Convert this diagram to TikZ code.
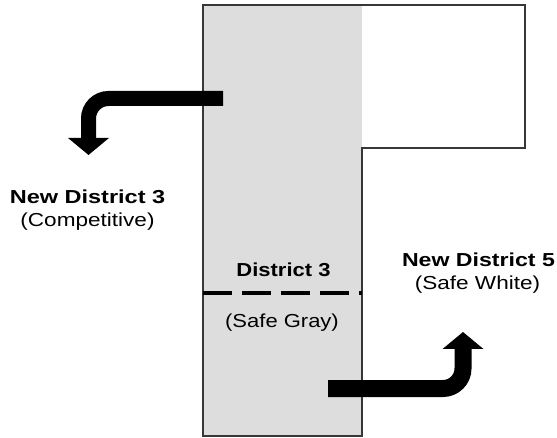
\documentclass[tikz,border=0pt]{standalone}
\usepackage{graphicx}
\usepackage{fontspec}
\setmainfont{Liberation Sans}
\usetikzlibrary{arrows.meta}

\definecolor{safegray}{RGB}{221,221,221}
\definecolor{edgegray}{RGB}{55,55,55}
\newcommand\stretchtxt[2][1.17]{\scalebox{#1}[1]{#2}}

\begin{document}
\begin{tikzpicture}[line cap=butt,line join=miter,x=1pt,y=-1pt,
  lbl/.style={inner sep=0pt,anchor=base,font=\fontsize{18.8}{22}\selectfont},
  bigarrow/.style={line width=#1,rounded corners=20pt,
    -{Triangle[width=40pt,length=17pt]}}]
  \useasboundingbox (0,0) rectangle (557,438);
  % district 3 (gray) and the white part of district 5
  \fill[safegray] (203,5) rectangle (362,436);
  \draw[line width=1.6pt,edgegray] (203,5) -- (525,5) -- (525,148) -- (362,148)
    -- (362,436) -- (203,436) -- cycle;
  \draw[line width=3.2pt,dash pattern=on 29pt off 10pt] (203,293) -- (362,293);
  % labels
  \node[lbl] (d3) at (283.5,276.5) {\stretchtxt{\textbf{District 3}}};
  \node[lbl] (d3sub) at (282,328) {\stretchtxt{(Safe Gray)}};
  \node[lbl] (nd3) at (87.5,204) {\stretchtxt[1.25]{\textbf{New District 3}}};
  \node[lbl] (nd3sub) at (87.5,227) {\stretchtxt[1.2]{(Competitive)}};
  \node[lbl] (nd5) at (478.5,266.5) {\stretchtxt[1.23]{\textbf{New District 5}}};
  \node[lbl] (nd5sub) at (477.5,290) {\stretchtxt[1.2]{(Safe White)}};
  % arrows
  \coordinate (lstart) at (223,98.5);
  \coordinate (lend) at (88.5,155);
  \coordinate (rstart) at (328,388.5);
  \coordinate (rend) at (463,332);
  \draw[bigarrow=15pt] (lstart) -| (lend);
  \draw[bigarrow=17pt] (rstart) -| (rend);
\end{tikzpicture}
\end{document}
